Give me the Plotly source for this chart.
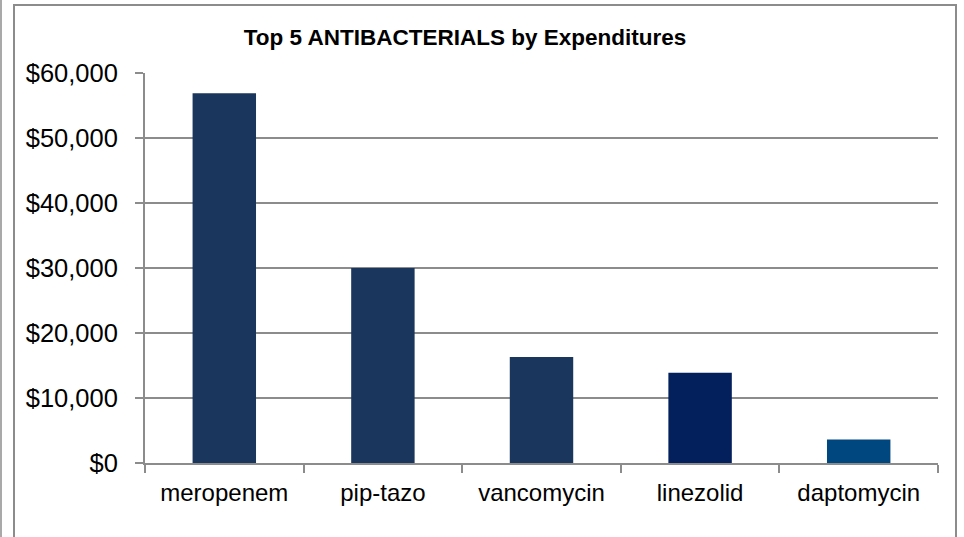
import plotly.graph_objects as go

categories = ["meropenem", "pip-tazo", "vancomycin", "linezolid", "daptomycin"]
expenditures = [56900, 30000, 16300, 13900, 3600]
bar_colors = ["#1b365d", "#1b365d", "#1b365d", "#03205c", "#00477f"]
y_ticks = [0, 10000, 20000, 30000, 40000, 50000, 60000]

W, H = 964, 537
L, R, T, B = 145, 26, 73, 74
pw, ph = W - L - R, H - T - B

def px(x):
    return (x - L) / pw

def py(y):
    return (H - B - y) / ph

fig = go.Figure(go.Bar(
    x=categories, y=expenditures,
    marker=dict(color=bar_colors, line=dict(width=0)),
    hoverinfo="x+y",
))

grid = "#8c8c8c"
fig.update_layout(
    width=W, height=H,
    margin=dict(l=L, r=R, t=T, b=B),
    paper_bgcolor="white", plot_bgcolor="white",
    bargap=0.6,
    showlegend=False,
    font=dict(family="Liberation Sans, Arial, sans-serif", size=24, color="#000000"),
    title=dict(
        text="<b>Top 5 ANTIBACTERIALS by Expenditures</b>",
        font=dict(size=22.5, color="#000000"),
        x=px(465), xref="paper", xanchor="center",
        y=1 - 37 / H, yref="container", yanchor="middle",
    ),
    xaxis=dict(
        showline=True, linecolor=grid, linewidth=2,
        ticks="outside", ticklen=8, tickwidth=2, tickcolor=grid,
        tickson="boundaries",
        showgrid=False,
        tickfont=dict(size=24),
        ticklabelstandoff=7,
    ),
    yaxis=dict(
        range=[0, 60000], tickvals=y_ticks, tickformat="$,.0f",
        showline=True, linecolor=grid, linewidth=2,
        ticks="outside", ticklen=8, tickwidth=2, tickcolor=grid,
        showgrid=True, gridcolor=grid, gridwidth=2,
        zeroline=False,
        tickfont=dict(size=25.5),
        ticklabelstandoff=12,
    ),
    shapes=[
        dict(type="line", xref="paper", yref="paper",
             x0=px(1), x1=px(1), y0=py(-5), y1=py(545),
             line=dict(color="#8c8c8c", width=1.5)),
        dict(type="rect", xref="paper", yref="paper",
             x0=px(14), x1=px(956), y0=py(5), y1=py(545),
             line=dict(color="#8c8c8c", width=2), fillcolor="rgba(0,0,0,0)",
             layer="above"),
    ],
)

fig.write_html(
    "out.html",
    config={"displayModeBar": False},
    post_script="document.body.style.margin='0';document.body.style.overflow='hidden';",
)
